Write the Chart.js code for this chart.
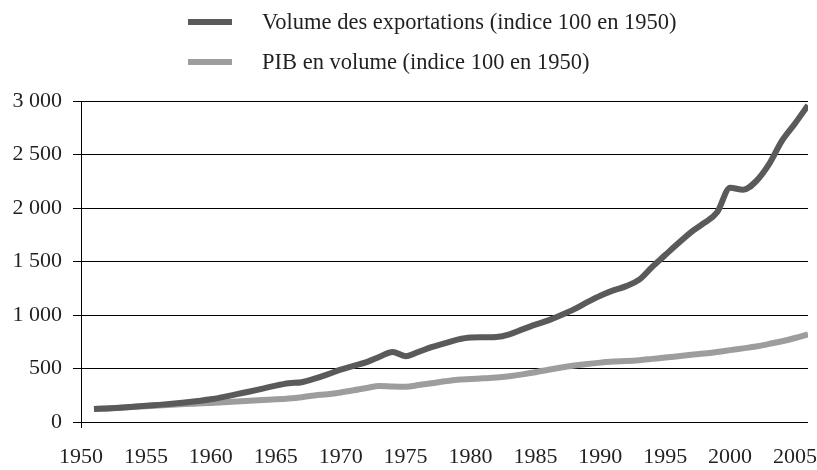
<!DOCTYPE html>
<html lang="fr">
<head>
<meta charset="utf-8">
<script src="https://cdn.jsdelivr.net/npm/chart.js@4.4.1/dist/chart.umd.min.js"></script>
<style>
    html, body { margin: 0; padding: 0; background: #fff; }
    #wrap { position: relative; width: 817px; height: 470px; }
    #legend {
        position: absolute; left: 188px; top: 2px;
        font-family: "Liberation Serif", serif; font-size: 22.5px; color: #231f20;
    }
    .item { display: flex; align-items: center; height: 40px; }
    .swatch { width: 44px; height: 6px; margin-right: 30px; }
</style>
</head>
<body>
<div id="wrap">
    <canvas id="chart" width="817" height="470"></canvas>
    <div id="legend"></div>
</div>
<script>
// données (indice 100 en 1950)
const annees = [1951, 1952, 1953, 1954, 1955, 1956, 1957, 1958, 1959, 1960,
    1961, 1962, 1963, 1964, 1965, 1966, 1967, 1968, 1969, 1970,
    1971, 1972, 1973, 1974, 1975, 1976, 1977, 1978, 1979, 1980,
    1981, 1982, 1983, 1984, 1985, 1986, 1987, 1988, 1989, 1990,
    1991, 1992, 1993, 1994, 1995, 1996, 1997, 1998, 1999, 2000,
    2001, 2002, 2003, 2004, 2005, 2006];

const exportations = [121, 127, 134, 142, 152, 160, 170, 182, 196, 212,
    235, 260, 285, 312, 340, 362, 372, 405, 445, 490,
    525, 560, 610, 655, 615, 655, 700, 735, 770, 790,
    792, 795, 820, 866, 910, 950, 1000, 1055, 1120, 1180,
    1230, 1270, 1330, 1450, 1560, 1670, 1775, 1860, 1960, 2190,
    2170, 2250, 2410, 2630, 2790, 2960];

const pib = [121, 127, 133, 140, 148, 155, 162, 168, 173, 178,
    185, 192, 199, 206, 212, 220, 232, 248, 260, 276,
    296, 318, 336, 332, 330, 345, 362, 380, 395, 402,
    408, 415, 428, 445, 465, 488, 510, 528, 543, 555,
    565, 570, 578, 590, 602, 615, 628, 640, 655, 672,
    688, 705, 730, 755, 785, 820];

const xTicks = [1950, 1955, 1960, 1965, 1970, 1975, 1980, 1985, 1990, 1995, 2000, 2005];
const yTicks = [0, 500, 1000, 1500, 2000, 2500, 3000];

const seriesNames = [
    "Volume des exportations (indice 100 en 1950)",
    "PIB en volume (indice 100 en 1950)"
];
const seriesColors = ["#5a5a5c", "#9d9d9f"];

const serif = "'Liberation Serif', 'Times New Roman', serif";
const formatMilliers = v => String(v).replace(/\B(?=(\d{3})+(?!\d))/g, " ");

const toPoints = vals => vals.map((v, i) => ({ x: annees[i], y: v }));

const chart = new Chart(document.getElementById("chart").getContext("2d"), {
    type: "line",
    data: {
        datasets: [exportations, pib].map((vals, i) => ({
            label: seriesNames[i],
            data: toPoints(vals),
            borderColor: seriesColors[i],
            backgroundColor: seriesColors[i],
            borderWidth: 6,
            pointRadius: 0,
            cubicInterpolationMode: "monotone",
            fill: false
        }))
    },
    options: {
        responsive: false,
        animation: false,
        layout: { padding: { top: 101, right: 9, left: 0, bottom: 0 } },
        plugins: {
            legend: { display: false },
            tooltip: { enabled: false }
        },
        scales: {
            x: {
                type: "linear",
                min: 1950,
                max: 2006,
                afterBuildTicks: s => { s.ticks = xTicks.map(v => ({ value: v })); },
                afterFit: s => { s.height = 48; s.paddingLeft = 0; s.paddingRight = 0; },
                grid: {
                    drawOnChartArea: false,
                    tickLength: 6,
                    color: c => c.index === 0 ? "#000" : "rgba(0,0,0,0)"
                },
                border: { display: false },
                ticks: {
                    padding: 16,
                    maxRotation: 0,
                    autoSkip: false,
                    color: "#231f20",
                    font: { family: serif, size: 22 },
                    callback: v => String(v)
                }
            },
            y: {
                min: 0,
                max: 3000,
                afterBuildTicks: s => { s.ticks = yTicks.map(v => ({ value: v })); },
                afterFit: s => { s.width = 81; },
                grid: { color: "#000", lineWidth: 1, tickLength: 8 },
                border: { color: "#000", width: 1 },
                ticks: {
                    padding: 11,
                    color: "#231f20",
                    font: { family: serif, size: 22 },
                    callback: v => formatMilliers(v)
                }
            }
        }
    }
});

// légende en HTML, empilée comme sur l'original
const legend = document.getElementById("legend");
chart.data.datasets.forEach(ds => {
    const row = document.createElement("div");
    row.className = "item";
    row.innerHTML = `<span class="swatch" style="background:${ds.borderColor}"></span><span>${ds.label}</span>`;
    legend.appendChild(row);
});
</script>
</body>
</html>
